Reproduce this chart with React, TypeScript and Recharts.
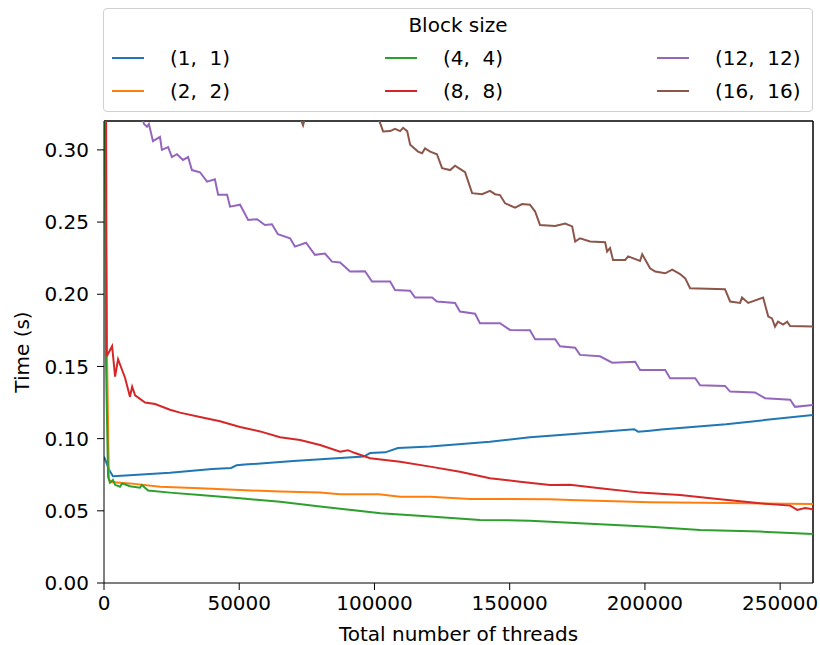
import { LineChart, Line, XAxis, YAxis, ReferenceLine, Label } from 'recharts';

// Total number of threads on x, time (s) on y — one pair of arrays per block size
const threadTicks = [0, 50000, 100000, 150000, 200000, 250000];
const timeTicks = [0, 0.05, 0.1, 0.15, 0.2, 0.25, 0.3];

const b1Threads = [1, 2000, 3300, 8000, 24400, 40000, 47000, 49000, 52000, 70000, 96000, 98400, 104000, 108700, 120600, 142700, 157500, 172300, 196000, 197500, 201900, 206000, 230000, 262144];
const b1Time = [0.0875, 0.078, 0.074, 0.0745, 0.0764, 0.079, 0.0797, 0.0815, 0.082, 0.0845, 0.0876, 0.09, 0.0905, 0.0935, 0.0945, 0.0979, 0.101, 0.103, 0.1065, 0.1048, 0.1055, 0.1063, 0.11, 0.1164];

const b2Threads = [1, 1100, 1800, 2500, 9600, 20700, 35500, 50300, 65100, 79900, 87300, 101600, 109500, 120600, 135300, 146400, 164900, 172300, 201900, 238900, 262144];
const b2Time = [0.4, 0.16, 0.072, 0.07, 0.069, 0.0667, 0.0656, 0.0644, 0.0633, 0.0626, 0.0615, 0.0614, 0.0598, 0.0598, 0.0582, 0.0582, 0.058, 0.0575, 0.0559, 0.0552, 0.0547];

const b4Threads = [1, 700, 1500, 2200, 3300, 4100, 5900, 6700, 9600, 13300, 14000, 16300, 24400, 35500, 50300, 65100, 79900, 87300, 102300, 120600, 139000, 157500, 172300, 201900, 220400, 242600, 262144];
const b4Time = [0.5, 0.157, 0.0737, 0.0695, 0.0714, 0.068, 0.0667, 0.069, 0.067, 0.066, 0.0679, 0.064, 0.0626, 0.061, 0.0587, 0.0563, 0.053, 0.0515, 0.0483, 0.046, 0.0437, 0.0432, 0.0418, 0.039, 0.0367, 0.0356, 0.034];

const b8Threads = [1, 1000, 3000, 4100, 5200, 7800, 9600, 10400, 11500, 15200, 18900, 24400, 28100, 35500, 42900, 50300, 57700, 65100, 72500, 79900, 87300, 90200, 92800, 98400, 109500, 120600, 131600, 142700, 153800, 164900, 172300, 183400, 198200, 213000, 227800, 242600, 253700, 256300, 259200, 262144];
const b8Time = [0.9, 0.157, 0.164, 0.143, 0.155, 0.142, 0.129, 0.136, 0.13, 0.125, 0.124, 0.12, 0.118, 0.115, 0.112, 0.108, 0.105, 0.101, 0.099, 0.0956, 0.091, 0.092, 0.09, 0.0864, 0.084, 0.0806, 0.0771, 0.0725, 0.0702, 0.0679, 0.068, 0.0656, 0.0626, 0.061, 0.058, 0.0552, 0.0536, 0.0506, 0.052, 0.051];

const b12Threads = [1, 4096, 8192, 13700, 14800, 15900, 16600, 18100, 20700, 21400, 23700, 25100, 27000, 29200, 31100, 32500, 35500, 38100, 41000, 42200, 45500, 46600, 50300, 53300, 56600, 59500, 62100, 64300, 68800, 70600, 74700, 78000, 81700, 84300, 87300, 91000, 96500, 99100, 105800, 107600, 113200, 115000, 121300, 123100, 129800, 131600, 137200, 139000, 146400, 150100, 157500, 159400, 166800, 168600, 174200, 176000, 183400, 187900, 196400, 198200, 207500, 209300, 218600, 220400, 229600, 231500, 240700, 244400, 253700, 255500, 262144];
const b12Time = [0.55, 0.4, 0.36, 0.324, 0.318, 0.316, 0.318, 0.306, 0.309, 0.3, 0.302, 0.295, 0.297, 0.293, 0.295, 0.286, 0.2845, 0.278, 0.2797, 0.269, 0.269, 0.2607, 0.262, 0.2515, 0.252, 0.248, 0.2485, 0.2416, 0.2388, 0.233, 0.2357, 0.2273, 0.2282, 0.2226, 0.222, 0.2157, 0.216, 0.2088, 0.2088, 0.203, 0.2025, 0.1977, 0.1977, 0.195, 0.194, 0.188, 0.1865, 0.18, 0.18, 0.1753, 0.175, 0.1688, 0.1688, 0.164, 0.163, 0.158, 0.157, 0.1526, 0.1533, 0.1476, 0.1476, 0.1418, 0.1418, 0.137, 0.1365, 0.1326, 0.132, 0.128, 0.127, 0.122, 0.1233];

const b16Threads = [1, 20000, 50000, 70000, 73600, 76000, 95000, 101300, 102000, 103200, 105800, 107600, 109500, 110600, 112100, 113200, 116100, 117600, 118700, 120600, 123100, 125000, 128000, 129800, 131600, 133500, 136100, 139800, 142700, 144600, 146400, 148300, 152000, 154600, 157500, 159400, 161200, 166800, 170500, 173100, 174200, 176000, 179700, 185300, 186000, 187100, 188200, 192700, 193800, 198200, 199000, 201900, 203800, 207500, 210100, 213000, 214900, 216700, 229600, 231500, 235200, 235900, 238200, 243700, 245600, 247000, 248100, 249200, 251100, 252600, 253700, 262144];
const b16Time = [0.7, 0.45, 0.36, 0.335, 0.317, 0.334, 0.325, 0.322, 0.319, 0.3128, 0.313, 0.3146, 0.313, 0.3153, 0.313, 0.3035, 0.2988, 0.2977, 0.301, 0.2988, 0.297, 0.2873, 0.286, 0.289, 0.2868, 0.2845, 0.27, 0.2693, 0.2716, 0.2693, 0.2687, 0.263, 0.26, 0.2625, 0.262, 0.2573, 0.248, 0.2473, 0.249, 0.247, 0.2365, 0.2388, 0.2365, 0.236, 0.2296, 0.232, 0.2238, 0.2238, 0.2262, 0.223, 0.2277, 0.218, 0.2157, 0.2145, 0.217, 0.214, 0.211, 0.2042, 0.2035, 0.195, 0.194, 0.1977, 0.194, 0.1977, 0.1845, 0.1833, 0.1776, 0.181, 0.179, 0.181, 0.178, 0.1776];

const zip = (xs: number[], ys: number[]) => xs.map((x, i) => ({ threads: x, time: ys[i] }));

const series = [
  { name: '(1,  1)', color: '#1f77b4', data: zip(b1Threads, b1Time) },
  { name: '(2,  2)', color: '#ff7f0e', data: zip(b2Threads, b2Time) },
  { name: '(4,  4)', color: '#2ca02c', data: zip(b4Threads, b4Time) },
  { name: '(8,  8)', color: '#d62728', data: zip(b8Threads, b8Time) },
  { name: '(12,  12)', color: '#9467bd', data: zip(b12Threads, b12Time) },
  { name: '(16,  16)', color: '#8c564b', data: zip(b16Threads, b16Time) },
];

const font = '"DejaVu Sans", sans-serif';

function BlockLegend() {
  // 3 columns, 2 rows, column-major like matplotlib ncol=3
  const colX = [112, 385, 657];
  const rowY = [58, 91];
  return (
    <div style={{
      position: 'absolute', left: 103, top: 8, width: 708, height: 102,
      border: '1px solid #d0d0d0', borderRadius: 4, background: 'rgba(255,255,255,0.8)',
      fontFamily: font, fontSize: 20, color: '#000',
    }}>
      <div style={{ position: 'absolute', top: 4, width: '100%', textAlign: 'center' }}>Block size</div>
      {series.map((s, i) => {
        const col = Math.floor(i / 2);
        const row = i % 2;
        return (
          <div key={s.name} style={{ position: 'absolute', left: colX[col] - 104, top: rowY[row] - 9 - 12, height: 24, display: 'flex', alignItems: 'center', whiteSpace: 'pre' }}>
            <span style={{ display: 'inline-block', width: 32, height: 2, background: s.color, marginRight: 26 }} />
            <span>{s.name}</span>
          </div>
        );
      })}
    </div>
  );
}

export default function App() {
  return (
    <div style={{ position: 'absolute', left: 0, top: 0, width: 820, height: 645, background: '#fff', fontFamily: font }}>
      <LineChart width={820} height={645} margin={{ top: 121, right: 7, left: 0, bottom: 0 }}>
        <XAxis
          dataKey="threads"
          type="number"
          domain={[0, 262144]}
          ticks={threadTicks}
          allowDataOverflow
          height={62}
          tickSize={7}
          tickMargin={6}
          stroke="#000"
          tick={{ fill: '#000', fontSize: 20 }}
        >
          <Label value="Total number of threads" position="insideBottom" offset={4} style={{ fontSize: 20, fill: '#000' }} />
        </XAxis>
        <YAxis
          type="number"
          domain={[0, 0.32]}
          ticks={timeTicks}
          allowDataOverflow
          width={104}
          tickSize={7}
          tickMargin={8}
          stroke="#000"
          tickFormatter={(v: number) => v.toFixed(2)}
          tick={{ fill: '#000', fontSize: 20 }}
        >
          <Label
            content={(props: any) => {
              const vb = props.viewBox;
              const cx = vb.x + 22;
              const cy = vb.y + vb.height / 2;
              return (
                <text x={cx} y={cy} textAnchor="middle" dominantBaseline="central" transform={`rotate(-90, ${cx}, ${cy})`} fontSize={20} fill="#000">
                  Time (s)
                </text>
              );
            }}
          />
        </YAxis>
        <ReferenceLine y={0.32} stroke="#000" strokeWidth={1.5} />
        <ReferenceLine x={262144} stroke="#000" strokeWidth={1.5} />
        {series.map((s) => (
          <Line
            key={s.name}
            data={s.data}
            dataKey="time"
            type="linear"
            stroke={s.color}
            strokeWidth={2}
            dot={false}
            isAnimationActive={false}
          />
        ))}
      </LineChart>
      <BlockLegend />
    </div>
  );
}
